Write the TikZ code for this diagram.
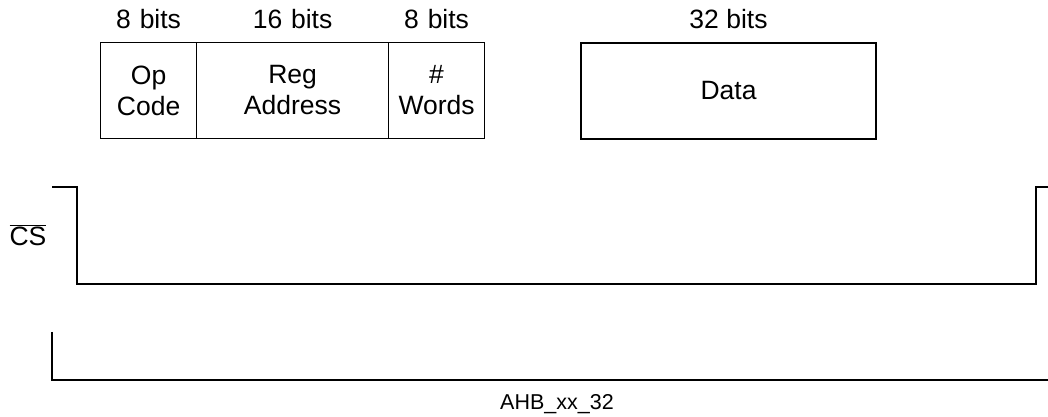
\documentclass[tikz,border=0pt]{standalone}
\usepackage{fontspec}
\setmainfont{Liberation Sans}
\usetikzlibrary{positioning,matrix}

\begin{document}
\begin{tikzpicture}[
x=1pt, y=1pt,
font=\fontsize{26.5}{31}\selectfont,
fields/.style={
    matrix of nodes,
    nodes={draw=black, line width=1.2pt, minimum height=96, inner sep=0pt, text width=80, align=center, anchor=center},
    column sep=-1.2pt,
    row sep=0pt,
    row 1/.style={nodes={draw=none, minimum height=46}},
    column 1/.style={nodes={minimum width=96}},
    column 2/.style={nodes={minimum width=192, text width=176}},
    column 3/.style={nodes={minimum width=96}},
},
wave/.style={line width=1.6pt, line join=miter},
]

\useasboundingbox (0,0) rectangle (1048,417);

\matrix[fields, matrix anchor=fields-2-1.south west] (fields) at (100,278) {
   8 bits  &  16 bits  &  8 bits \\
   Op\par Code & Reg\par Address & \#\par Words \\
};

\node[draw=black, line width=1.2pt, minimum width=295, minimum height=96] (data) at (728.5,326) {Data};
\node[minimum height=46, inner sep=0pt, above=0pt of data] (databits) {32 bits};

% chip select
\node (cs) at (28,182) {$\overline{\hbox{CS}}$};
\coordinate (cshi) at (52,230);
\coordinate (csend) at (1048,230);
\draw[wave] (cshi) -- (77,230) -- (77,133) -- (1036,133) -- (1036,230) -- (csend);

% second trace
\coordinate (lostart) at (52,85);
\coordinate (loend) at (1048,37);
\draw[wave] (lostart) |- (loend);

\node[font=\fontsize{21.5}{25}\selectfont] (name) at (557,13) {AHB\_xx\_32};

\end{tikzpicture}
\end{document}
